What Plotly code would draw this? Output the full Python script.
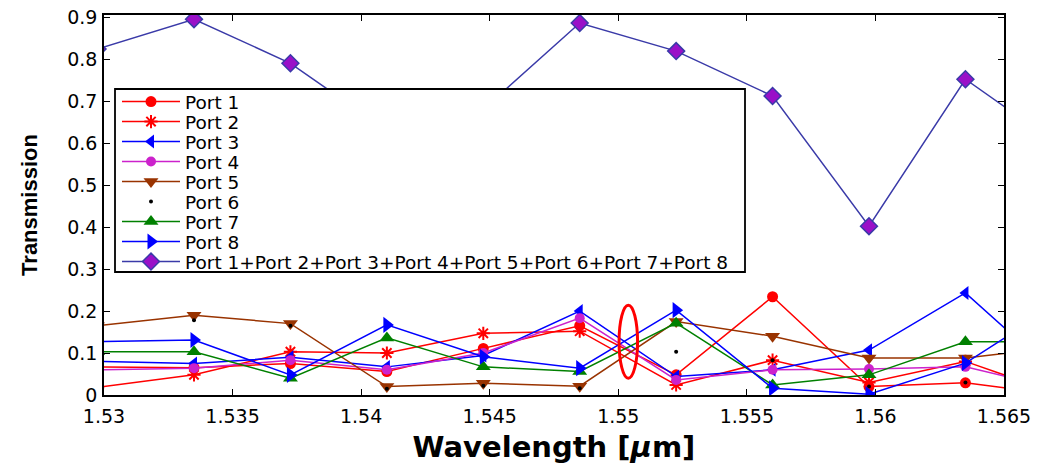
import plotly.graph_objects as go

# ---- data ----
wavelength = [1.52975, 1.5335, 1.53725, 1.541, 1.54475, 1.5485, 1.55225, 1.556, 1.55975, 1.5635, 1.56725]
port1 = [0.067, 0.065, 0.075, 0.056, 0.111, 0.165, 0.048, 0.234, 0.020, 0.029, 0.000]
port2 = [0.018, 0.048, 0.103, 0.100, 0.147, 0.152, 0.024, 0.083, 0.030, 0.080, 0.000]
port3 = [0.080, 0.075, 0.090, 0.067, 0.094, 0.200, 0.044, 0.060, 0.107, 0.243, 0.037]
port4 = [0.060, 0.064, 0.083, 0.060, 0.100, 0.183, 0.036, 0.060, 0.062, 0.067, 0.013]
port5 = [0.165, 0.190, 0.170, 0.020, 0.028, 0.021, 0.175, 0.140, 0.088, 0.088, 0.115]
port6 = [0.170, 0.178, 0.165, 0.015, 0.022, 0.016, 0.103, 0.083, 0.020, 0.030, 0.010]
port7 = [0.103, 0.103, 0.040, 0.136, 0.067, 0.056, 0.171, 0.024, 0.048, 0.127, 0.127]
port8 = [0.127, 0.131, 0.048, 0.167, 0.091, 0.064, 0.202, 0.016, 0.002, 0.076, 0.223]
port_sum = [0.824, 0.895, 0.790, 0.630, 0.680, 0.886, 0.819, 0.712, 0.402, 0.752, 0.590]

names = ["Port 1", "Port 2", "Port 3", "Port 4", "Port 5", "Port 6", "Port 7", "Port 8",
         "Port 1+Port 2+Port 3+Port 4+Port 5+Port 6+Port 7+Port 8"]
x_ticks = [1.53, 1.535, 1.54, 1.545, 1.55, 1.555, 1.56, 1.565]
x_ticktext = ["1.53", "1.535", "1.54", "1.545", "1.55", "1.555", "1.56", "1.565"]
y_ticks = [0, 0.1, 0.2, 0.3, 0.4, 0.5, 0.6, 0.7, 0.8, 0.9]
y_ticktext = ["0", "0.1", "0.2", "0.3", "0.4", "0.5", "0.6", "0.7", "0.8", "0.9"]

series = [port1, port2, port3, port4, port5, port6, port7, port8, port_sum]
styles = [
    dict(mode="lines+markers", line=dict(color="#ff0000", width=1.5),
         marker=dict(symbol="circle", size=11, color="#ff0000")),
    dict(mode="lines+markers", line=dict(color="#ff0000", width=1.5),
         marker=dict(symbol="asterisk-open", size=11, color="#ff0000", line=dict(width=2, color="#ff0000"))),
    dict(mode="lines+markers", line=dict(color="#0000ff", width=1.5),
         marker=dict(symbol="triangle-left", size=12, color="#0000ff")),
    dict(mode="lines+markers", line=dict(color="#cc22cc", width=1.5),
         marker=dict(symbol="circle", size=10, color="#cc22cc")),
    dict(mode="lines+markers", line=dict(color="#993300", width=1.5),
         marker=dict(symbol="triangle-down", size=13, color="#993300")),
    dict(mode="markers",
         marker=dict(symbol="circle", size=4, color="#000000")),
    dict(mode="lines+markers", line=dict(color="#008000", width=1.5),
         marker=dict(symbol="triangle-up", size=13, color="#008000")),
    dict(mode="lines+markers", line=dict(color="#0000ff", width=1.5),
         marker=dict(symbol="triangle-right", size=14, color="#0000ff")),
    dict(mode="lines+markers", line=dict(color="#3a3aa8", width=1.5),
         marker=dict(symbol="diamond", size=13, color="#9a10c8", line=dict(width=1.5, color="#3a3aa8"))),
]

# body margin is removed by post_script, so the figure starts at the page corner
W, H = 1042, 469
L, T = 104, 15
plot_w = 900
plot_h = 380
R = W - L - plot_w
B = H - T - plot_h


def px_to_paper_y(py):
    return (T + plot_h - py) / plot_h


def px_to_paper_x(px):
    return (px - L) / plot_w


fig = go.Figure()
legend_layouts = {}
for i, (vals, name, st) in enumerate(zip(series, names, styles)):
    key = "legend" if i == 0 else f"legend{i+1}"
    fig.add_trace(go.Scatter(x=wavelength, y=vals, name=name, legend=key, **st))
    item_px = 102 + 20 * i
    legend_layouts[key] = dict(
        x=px_to_paper_x(117), xanchor="left",
        y=px_to_paper_y(item_px), yanchor="middle",
        bgcolor="rgba(0,0,0,0)", borderwidth=0,
        font=dict(family="DejaVu Sans", size=18.5, color="#000000"),
        itemwidth=58, tracegroupgap=0,
    )

fig.update_layout(
    width=W, height=H,
    margin=dict(l=L, r=R, t=T, b=B, autoexpand=False),
    paper_bgcolor="white", plot_bgcolor="white",
    showlegend=True,
    **legend_layouts,
)

axis_common = dict(
    showgrid=False, zeroline=False, showline=True, linecolor="black", linewidth=1.5,
    mirror="ticks", ticks="inside", ticklen=6, tickwidth=1.2, tickcolor="black",
    tickfont=dict(family="DejaVu Sans", size=19, color="#000000"),
    ticklabeloverflow="allow",
)
fig.update_xaxes(range=[1.53, 1.565], tickvals=x_ticks, ticktext=x_ticktext,
                 ticklabelstandoff=3,
                 title=dict(text="Wavelength [<i>μ</i>m]", standoff=11,
                            font=dict(family="DejaVu Sans", size=29, color="#000000", weight="bold")),
                 **axis_common)
fig.update_yaxes(range=[0, 0.905], tickvals=y_ticks, ticktext=y_ticktext,
                 ticklabelstandoff=1,
                 title=dict(text="Transmission", standoff=24,
                            font=dict(family="Liberation Sans", size=22, color="#000000", weight="bold")),
                 **axis_common)

# legend box
fig.add_shape(type="rect", xref="paper", yref="paper",
              x0=px_to_paper_x(115), x1=px_to_paper_x(745),
              y0=px_to_paper_y(272), y1=px_to_paper_y(89),
              line=dict(color="black", width=1.8), fillcolor="white", layer="above")

# red rotation loop annotation
fig.add_shape(type="circle", xref="x", yref="y",
              x0=1.55003, x1=1.55075, y0=0.04, y1=0.214,
              line=dict(color="#ff0000", width=3), layer="above")

fig.write_html("out.html",
               config={"displayModeBar": False},
               post_script="document.body.style.margin='0px';document.body.style.overflow='hidden';")
